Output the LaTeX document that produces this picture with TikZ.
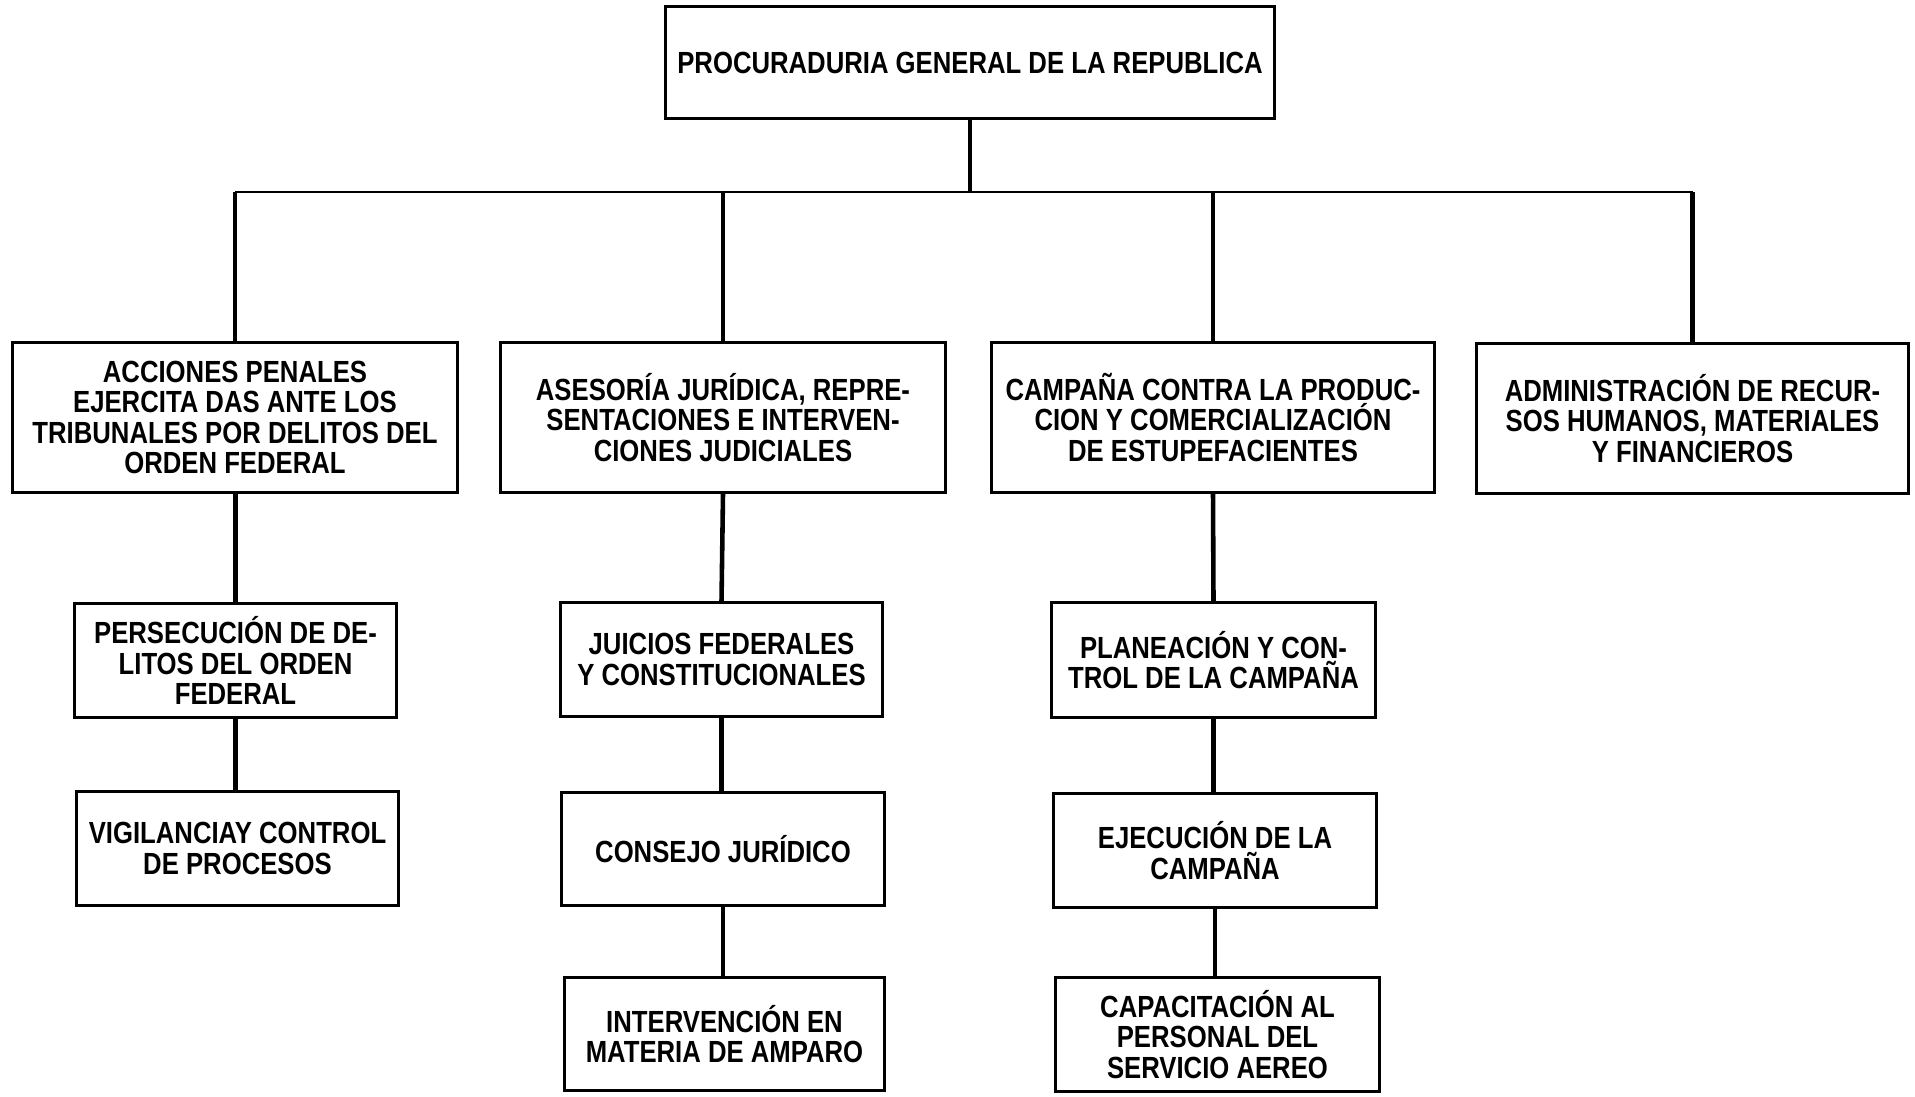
\documentclass[tikz,border=0pt]{standalone}
\usepackage{fontspec}
\setmainfont{Liberation Sans}[FakeStretch=0.84]
\begin{document}
\begin{tikzpicture}[x=0.01cm,y=-0.01cm,
  box/.style={draw=black,line width=0.85pt,inner sep=0pt,align=center,
    font=\fontsize{8.7pt}{8.6pt}\selectfont\bfseries},
  link/.style={draw=black,line width=1.3pt},
  busline/.style={draw=black,line width=0.8pt}]
\useasboundingbox[fill=white] (0,0) rectangle (1915,1096);
% top
\node[box,minimum width=6.08cm,minimum height=1.11cm] (top) at (970,62.5) {PROCURADURIA GENERAL DE LA REPUBLICA};
% row 2
\node[box,minimum width=4.44cm,minimum height=1.49cm] (A) at (235,417.5) {ACCIONES PENALES\\EJERCITA DAS ANTE LOS\\TRIBUNALES POR DELITOS DEL\\ORDEN FEDERAL};
\node[box,minimum width=4.44cm,minimum height=1.49cm] (B) at (723,417.5) {ASESORÍA JURÍDICA, REPRE-\\SENTACIONES E INTERVEN-\\CIONES JUDICIALES};
\node[box,minimum width=4.42cm,minimum height=1.49cm] (C) at (1213,417.5) {CAMPAÑA CONTRA LA PRODUC-\\CION Y COMERCIALIZACIÓN\\DE ESTUPEFACIENTES};
\node[box,minimum width=4.31cm,minimum height=1.50cm] (D) at (1692.5,418.5) {ADMINISTRACIÓN DE RECUR-\\SOS HUMANOS, MATERIALES\\Y FINANCIEROS};
% row 3
\node[box,minimum width=3.21cm,minimum height=1.13cm] (A1) at (235.5,660.5) {PERSECUCIÓN DE DE-\\LITOS DEL ORDEN\\FEDERAL};
\node[box,minimum width=3.21cm,minimum height=1.13cm] (B1) at (721.5,659.5) {JUICIOS FEDERALES\\Y CONSTITUCIONALES};
\node[box,minimum width=3.23cm,minimum height=1.14cm] (C1) at (1213.5,660) {PLANEACIÓN Y CON-\\TROL DE LA CAMPAÑA};
% row 4
\node[box,minimum width=3.21cm,minimum height=1.13cm] (A2) at (237.5,848.5) {VIGILANCIAY CONTROL\\DE PROCESOS};
\node[box,minimum width=3.22cm,minimum height=1.12cm] (B2) at (723,849) {CONSEJO JURÍDICO};
\node[box,minimum width=3.22cm,minimum height=1.13cm] (C2) at (1215,850.5) {EJECUCIÓN DE LA\\CAMPAÑA};
% row 5
\node[box,minimum width=3.19cm,minimum height=1.12cm] (B3) at (724.5,1034) {INTERVENCIÓN EN\\MATERIA DE AMPARO};
\node[box,minimum width=3.23cm,minimum height=1.13cm] (C3) at (1217.5,1034.5) {CAPACITACIÓN AL\\PERSONAL DEL\\SERVICIO AEREO};
% bus
\coordinate (bus) at (0,192);
\draw[busline] (A.north |- bus) -- (D.north |- bus);
\draw[link] (top.south) -- (top.south |- bus);
\foreach \n in {A,B,C,D} \draw[link] (\n.north) -- (\n.north |- bus);
% chains
\draw[link] (A.south) -- (A1.north |- A.south) -- (A1.north);
\draw[link] (A1.south) -- (A1.south |- A2.north);
\draw[link] (B.south) -- (B1.north);
\draw[link] (B1.south) -- (B1.south |- B2.north);
\draw[link] (B2.south) -- (B2.south |- B3.north);
\draw[link] (C.south) -- (C1.north);
\draw[link] (C1.south) -- (C1.south |- C2.north);
\draw[link] (C2.south) -- (C2.south |- C3.north);
\end{tikzpicture}
\end{document}
